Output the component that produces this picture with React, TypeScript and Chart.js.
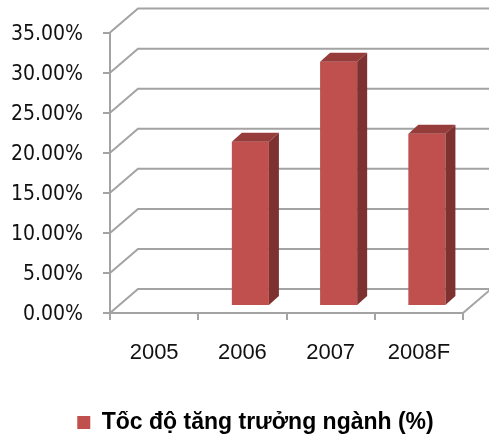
import { useEffect, useRef } from 'react';
import { Chart, registerables } from 'chart.js';

Chart.register(...registerables);

const categories = ['2005', '2006', '2007', '2008F'];
const growth = [0, 20.5, 30.5, 21.5];
const seriesLabel = 'Tốc độ tăng trưởng ngành (%)';
const yMin = 0;
const yMax = 35;
const yStep = 5;

const WALL_DX = 28;
const WALL_DY = -24;
const BAR_SHIFT_X = 8;
const BAR_SHIFT_Y = -7;
const BAR_DX = 10;
const BAR_DY = -9;
const LEGEND_SHIFT = 24;
const GRID = '#a3a3a3';
const FRONT = '#c0504d';
const TOP = '#963d3b';
const SIDE = '#7d3231';

const threeD = {
  id: 'threeD',
  afterLayout(chart: any) {
    if (chart.legend) {
      chart.legend.left += LEGEND_SHIFT;
      chart.legend.right += LEGEND_SHIFT;
    }
  },
  beforeDatasetsDraw(chart: any) {
    const { ctx, chartArea, scales } = chart;
    const y = scales.y;
    ctx.save();
    ctx.strokeStyle = GRID;
    ctx.lineWidth = 2;
    y.ticks.forEach((t: any) => {
      const py = y.getPixelForValue(t.value);
      ctx.beginPath();
      ctx.moveTo(chartArea.left, py);
      ctx.lineTo(chartArea.left + WALL_DX, py + WALL_DY);
      ctx.lineTo(chartArea.right + WALL_DX, py + WALL_DY);
      ctx.stroke();
    });
    ctx.beginPath();
    ctx.moveTo(chartArea.right, chartArea.bottom);
    ctx.lineTo(chartArea.right + WALL_DX, chartArea.bottom + WALL_DY);
    ctx.stroke();
    ctx.restore();
    ctx.save();
    ctx.translate(BAR_SHIFT_X, BAR_SHIFT_Y);
  },
  afterDatasetsDraw(chart: any) {
    const { ctx } = chart;
    ctx.restore();
    const meta = chart.getDatasetMeta(0);
    meta.data.forEach((bar: any) => {
      const { x, y, base, width } = bar.getProps(['x', 'y', 'base', 'width'], true);
      if (Math.abs(base - y) < 1) return;
      const l = x - width / 2 + BAR_SHIFT_X;
      const r = x + width / 2 + BAR_SHIFT_X;
      const t = y + BAR_SHIFT_Y;
      const b = base + BAR_SHIFT_Y;
      ctx.save();
      ctx.fillStyle = TOP;
      ctx.beginPath();
      ctx.moveTo(l, t);
      ctx.lineTo(l + BAR_DX, t + BAR_DY);
      ctx.lineTo(r + BAR_DX, t + BAR_DY);
      ctx.lineTo(r, t);
      ctx.closePath();
      ctx.fill();
      ctx.fillStyle = SIDE;
      ctx.beginPath();
      ctx.moveTo(r, t);
      ctx.lineTo(r + BAR_DX, t + BAR_DY);
      ctx.lineTo(r + BAR_DX, b + BAR_DY);
      ctx.lineTo(r, b);
      ctx.closePath();
      ctx.fill();
      ctx.restore();
    });
  },
};

export default function App() {
  const ref = useRef<HTMLCanvasElement>(null);
  useEffect(() => {
    if (!ref.current) return;
    const chart = new Chart(ref.current, {
      type: 'bar',
      data: {
        labels: categories,
        datasets: [
          {
            label: seriesLabel,
            data: growth,
            backgroundColor: FRONT,
            borderWidth: 0,
            categoryPercentage: 1,
            barPercentage: 0.42,
          },
        ],
      },
      options: {
        responsive: false,
        animation: false,
        layout: { padding: { left: 0, right: 26, top: 32, bottom: -10 } },
        plugins: {
          tooltip: { enabled: false },
          legend: {
            position: 'bottom',
            labels: {
              boxWidth: 13,
              boxHeight: 13,
              padding: 0,
              color: '#000',
              font: { family: "'Liberation Sans', Arial, sans-serif", size: 23, weight: 'bold', lineHeight: 1.1 },
            },
          },
        },
        scales: {
          x: {
            afterFit: (s: any) => {
              s.height = 98;
            },
            grid: {
              drawOnChartArea: false,
              drawTicks: true,
              tickLength: 7,
              color: GRID,
              lineWidth: 2,
            },
            border: { color: GRID, width: 2 },
            ticks: {
              color: '#111',
              padding: 19.5,
              font: { family: "'Liberation Sans', Arial, sans-serif", size: 22 },
            },
          },
          y: {
            min: yMin,
            max: yMax,
            afterFit: (s: any) => {
              s.width = 110;
            },
            grid: {
              drawOnChartArea: false,
              drawTicks: true,
              tickLength: 7,
              color: GRID,
              lineWidth: 2,
            },
            border: { color: GRID, width: 2 },
            ticks: {
              stepSize: yStep,
              color: '#111',
              padding: 20,
              labelOffset: 2,
              font: { family: "'Liberation Sans Narrow', 'DejaVu Sans Condensed', sans-serif", size: 21 },
              callback: (v: any) => Number(v).toFixed(2) + '%',
            },
          },
        },
      },
      plugins: [threeD],
    } as any);
    return () => chart.destroy();
  }, []);
  return (
    <div style={{ position: 'fixed', left: 0, top: 0, width: 489, height: 434, background: '#fff' }}>
      <canvas ref={ref} width={489} height={434} />
    </div>
  );
}
